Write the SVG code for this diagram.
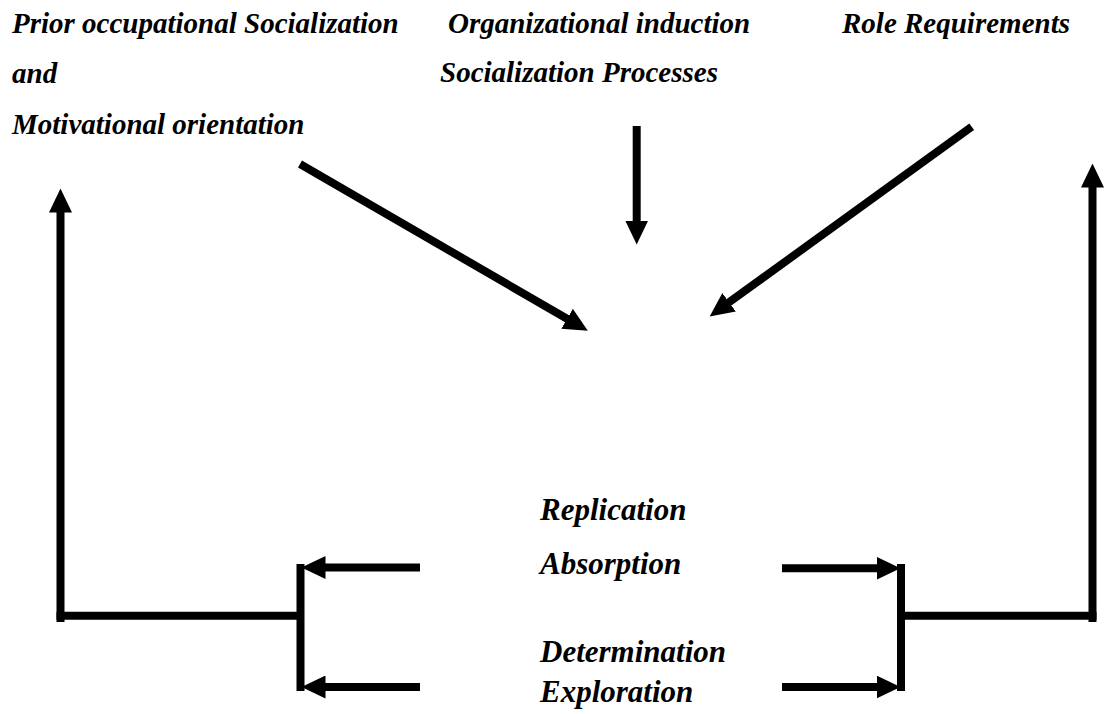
<svg xmlns="http://www.w3.org/2000/svg" width="1107" height="714" viewBox="0 0 1107 714">
  <style>
    .lbl { font-family: 'Liberation Serif', 'DejaVu Serif', serif; font-weight: 700; font-style: italic; fill: #000; }
    .top { font-size: 29px; }
    .bot { font-size: 31px; }
    .wire { stroke: #000; stroke-width: 8; fill: none; stroke-linecap: butt; }
    .arr { marker-end: url(#head); }
  </style>
  <defs>
    <marker id="head" markerUnits="userSpaceOnUse" viewBox="0 0 24 23" markerWidth="24" markerHeight="23" refX="0.5" refY="11.5" orient="auto">
      <path d="M0,0 L24,11.5 L0,23 Z" fill="#000"/>
    </marker>
  </defs>
  <rect width="1107" height="714" fill="#fff"/>

  <g id="prior-socialization">
    <text class="lbl top" x="12" y="33">Prior occupational Socialization</text>
    <text class="lbl top" x="12" y="83">and</text>
    <text class="lbl top" x="12" y="134">Motivational orientation</text>
  </g>
  <g id="organizational-induction">
    <text class="lbl top" x="448" y="33">Organizational induction</text>
    <text class="lbl top" x="440" y="82">Socialization Processes</text>
  </g>
  <g id="role-requirements">
    <text class="lbl top" x="842" y="33">Role Requirements</text>
  </g>
  <g id="outcomes">
    <text class="lbl bot" x="540" y="520">Replication</text>
    <text class="lbl bot" x="540" y="574">Absorption</text>
    <text class="lbl bot" x="540" y="662">Determination</text>
    <text class="lbl bot" x="540" y="702">Exploration</text>
  </g>

  <g id="connectors">
    <!-- inputs converging on the centre -->
    <line class="wire arr" x1="300" y1="164" x2="567.5" y2="319"/>
    <line class="wire arr" x1="636.7" y1="126" x2="636.7" y2="221"/>
    <line class="wire arr" x1="971.7" y1="126.7" x2="728.7" y2="302.6"/>

    <!-- left feedback branch -->
    <line class="wire arr" x1="420" y1="567.5" x2="325" y2="567.5"/>
    <line class="wire arr" x1="420" y1="687" x2="325" y2="687"/>
    <line class="wire" x1="300.5" y1="564" x2="300.5" y2="691"/>
    <line class="wire" x1="56.5" y1="615.8" x2="300.5" y2="615.8"/>
    <line class="wire arr" x1="60.5" y1="622" x2="60.5" y2="212"/>

    <!-- right feedback branch -->
    <line class="wire arr" x1="782" y1="568.3" x2="877" y2="568.3"/>
    <line class="wire arr" x1="782" y1="687" x2="877" y2="687"/>
    <line class="wire" x1="901" y1="564" x2="901" y2="691"/>
    <line class="wire" x1="901" y1="615.8" x2="1096.5" y2="615.8"/>
    <line class="wire arr" x1="1092.5" y1="622" x2="1092.5" y2="187"/>
  </g>
</svg>
